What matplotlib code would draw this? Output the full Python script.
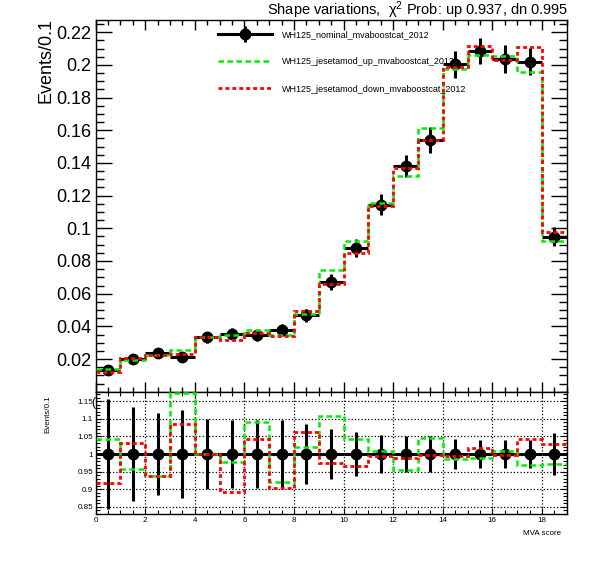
import numpy as np
import matplotlib
matplotlib.use('Agg')
import matplotlib.pyplot as plt
from matplotlib.ticker import MultipleLocator
from matplotlib.lines import Line2D
from matplotlib.legend_handler import HandlerTuple

plt.rcParams['font.family'] = ['Liberation Sans', 'DejaVu Sans']
plt.rcParams['mathtext.fontset'] = 'custom'
plt.rcParams['mathtext.rm'] = 'Liberation Sans'
plt.rcParams['mathtext.it'] = 'Liberation Sans:italic'

# ---------------- data ----------------
bin_edges = np.arange(0, 20, 1)
nominal = [0.0131, 0.0200, 0.0239, 0.0212, 0.0333, 0.0355, 0.0345, 0.0378, 0.0467, 0.0673,
           0.0881, 0.1145, 0.1381, 0.1541, 0.2004, 0.2085, 0.2036, 0.2020, 0.0949]
nominal_err = [0.00207, 0.00266, 0.00280, 0.00265, 0.00333, 0.00348, 0.00338, 0.00370, 0.00402, 0.00478,
               0.00555, 0.00630, 0.00691, 0.00771, 0.00842, 0.00813, 0.00835, 0.00828, 0.00560]
up = [0.01366, 0.01916, 0.02237, 0.02544, 0.0333, 0.03468, 0.03767, 0.03481, 0.04763, 0.07464,
      0.09198, 0.11559, 0.13189, 0.16134, 0.19779, 0.20600, 0.20553, 0.19574, 0.09224]
down = [0.01203, 0.0206, 0.02239, 0.02304, 0.0333, 0.03167, 0.03602, 0.03413, 0.04969, 0.06562,
        0.08519, 0.11393, 0.13672, 0.15379, 0.1990, 0.21184, 0.20319, 0.21089, 0.09765]
labels = ['WH125_nominal_mvaboostcat_2012',
          'WH125_jesetamod_up_mvaboostcat_2012',
          'WH125_jesetamod_down_mvaboostcat_2012']
title = u'Shape variations,  \u03c7$^{2}$ Prob: up 0.937, dn 0.995'

nominal = np.array(nominal); nominal_err = np.array(nominal_err)
up = np.array(up); down = np.array(down)
centers = 0.5 * (bin_edges[:-1] + bin_edges[1:])
halfw = 0.5 * np.diff(bin_edges)

GREEN = '#00ee00'
RED = '#ff0000'
GREEN_LS = (0, (2.2, 1.4))
RED_LS = (0, (1.4, 1.1))

W, H = 596, 572
fig = plt.figure(figsize=(W / 100, H / 100), dpi=100)
L, R = 95.7 / W, 566.7 / W
top1, bot1 = 1 - 20 / H, 1 - 391.7 / H
bot2 = 1 - 514.3 / H
ax1 = fig.add_axes([L, bot1, R - L, top1 - bot1])
ax2 = fig.add_axes([L, bot2, R - L, bot1 - bot2])

# ---------------- top panel ----------------
ax1.errorbar(centers, nominal, xerr=halfw, yerr=nominal_err, fmt='o', color='black',
             ms=7.5, lw=2.2, capsize=0, zorder=3)
h_up = ax1.stairs(up, bin_edges, baseline=None, color=GREEN, ls=GREEN_LS, lw=1.8, zorder=4)
h_dn = ax1.stairs(down, bin_edges, baseline=None, color=RED, ls=RED_LS, lw=2.0, zorder=5)
ax1.set_xlim(0, 19)
ax1.set_ylim(0, 0.2275)
ax1.xaxis.set_major_locator(MultipleLocator(2))
ax1.xaxis.set_minor_locator(MultipleLocator(0.5))
ax1.yaxis.set_major_locator(MultipleLocator(0.02))
ax1.yaxis.set_minor_locator(MultipleLocator(0.005))
ax1.tick_params(axis='both', which='both', direction='in', top=True, right=True, width=1)
ax1.tick_params(axis='x', which='major', length=7.2, labelbottom=False)
ax1.tick_params(axis='x', which='minor', length=3.6)
ax1.tick_params(axis='y', which='major', length=11.5, labelsize=13, pad=3)
ax1.tick_params(axis='y', which='minor', length=5.8)
ax1.set_yticks(np.arange(0.02, 0.2201, 0.02))
ax1.set_yticklabels(['0.02', '0.04', '0.06', '0.08', '0.1', '0.12', '0.14', '0.16', '0.18', '0.2', '0.22'])
for s in ax1.spines.values():
    s.set_linewidth(1.0)

fig.text(46 / W, 1 - 18 / H, 'Events/0.1', rotation=90, ha='center', va='top', fontsize=13)
fig.text(568 / W, 1 - 15 / H, title, ha='right', va='baseline', fontsize=10.5)

nom_handle = (Line2D([], [], color='black', lw=2.2, marker='o', ms=7.5),
              Line2D([], [], color='black', ls='none', marker='|', ms=11, mew=2.2))
leg = ax1.legend([nom_handle, h_up, h_dn], labels, frameon=False, fontsize=6.5,
                 loc='upper left', bbox_to_anchor=(218 / W, 1 - 30 / H),
                 bbox_transform=fig.transFigure, borderpad=0, borderaxespad=0,
                 handlelength=6.0, handletextpad=1.1, labelspacing=2.03,
                 handler_map={tuple: HandlerTuple(ndivide=1)})

# ---------------- ratio panel ----------------
ratio_err = nominal_err / nominal
r_up = np.minimum(up / nominal, 1.1745)
r_dn = np.minimum(down / nominal, 1.1745)
ax2.errorbar(centers, nominal / nominal, xerr=halfw, yerr=ratio_err, fmt='o', color='black',
             ms=7.5, lw=2.2, capsize=0, zorder=3)
ax2.stairs(r_up, bin_edges, baseline=None, color=GREEN, ls=GREEN_LS, lw=1.8, zorder=4)
ax2.stairs(r_dn, bin_edges, baseline=None, color=RED, ls=RED_LS, lw=2.0, zorder=5)
ax2.set_xlim(0, 19)
ax2.set_ylim(0.8282, 1.1775)
ax2.xaxis.set_major_locator(MultipleLocator(2))
ax2.xaxis.set_minor_locator(MultipleLocator(0.5))
ax2.yaxis.set_major_locator(MultipleLocator(0.05))
ax2.yaxis.set_minor_locator(MultipleLocator(0.01))
ax2.set_yticks([0.85, 0.9, 0.95, 1.0, 1.05, 1.1, 1.15])
ax2.set_yticklabels(['0.85', '0.9', '0.95', '1', '1.05', '1.1', '1.15'])
ax2.tick_params(axis='both', which='both', direction='in', top=True, right=True, width=0.8,
                labelsize=5.8, pad=2)
ax2.tick_params(axis='both', which='major', length=4.5)
ax2.tick_params(axis='both', which='minor', length=2.8)
ax2.grid(True, which='major', ls=':', color='black', lw=0.9)
for s in ax2.spines.values():
    s.set_linewidth(1.0)

fig.text(48 / W, 1 - 395 / H, 'Events/0.1', rotation=90, ha='center', va='top', fontsize=5.8)
fig.text(561 / W, 1 - 535 / H, 'MVA score', ha='right', va='baseline', fontsize=5.8)
fig.text(93.5 / W, 1 - 402.7 / H, '(', ha='center', va='center', fontsize=8.5)

fig.savefig('out.png', dpi=100)
